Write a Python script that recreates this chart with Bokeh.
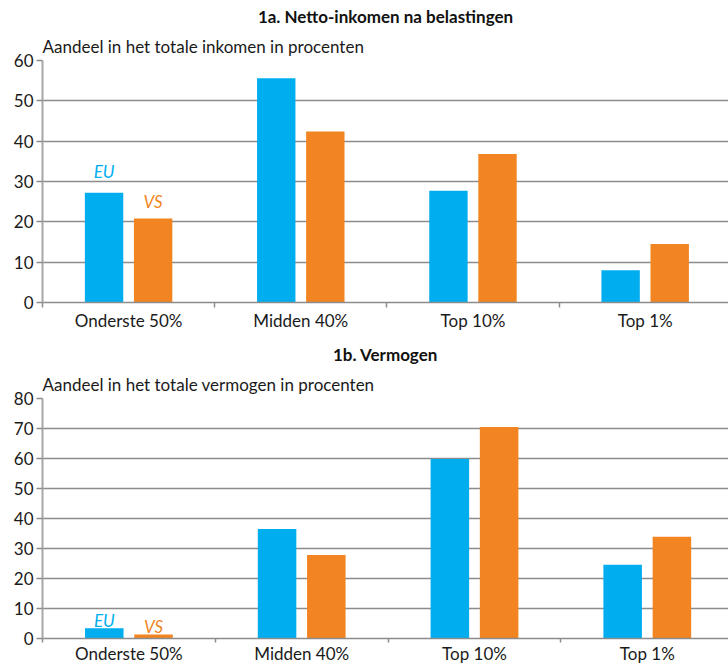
from bokeh.plotting import figure
from bokeh.models import Range1d, FixedTicker, Title, ColumnDataSource
from bokeh.transform import dodge
from bokeh.layouts import column
from bokeh.core.properties import value
from bokeh.embed import file_html
from bokeh.resources import INLINE

categories = ["Onderste 50%", "Midden 40%", "Top 10%", "Top 1%"]
income_eu = [27.2, 55.6, 27.7, 8.0]
income_vs = [20.8, 42.4, 36.8, 14.5]
wealth_eu = [3.4, 36.5, 59.8, 24.6]
wealth_vs = [1.3, 27.8, 70.5, 33.9]

BLUE = "#00AEEF"
ORANGE = "#F28522"
GRID = "#8c8c8c"
FONT = "Lato"


def make_chart(title, subtitle, eu, vs, ymax, height, border_top, border_bottom, border_left,
               xmax, eu_off, vs_off, label_standoff, tick_out):
    xs = [i + 0.5 for i in range(len(categories))]
    src = ColumnDataSource(dict(x=xs, eu=eu, vs=vs, cat=categories,
                                eu_lab=["EU"] + [""] * (len(categories) - 1),
                                vs_lab=["VS"] + [""] * (len(categories) - 1)))
    p = figure(width=728, height=height, output_backend="svg", toolbar_location=None,
               x_range=Range1d(0, xmax), y_range=Range1d(0, ymax), title=None,
               min_border_top=border_top, min_border_bottom=border_bottom,
               min_border_left=border_left, min_border_right=0)
    p.outline_line_color = None
    p.background_fill_color = "white"
    p.border_fill_color = "white"

    p.vbar(x=dodge("x", -0.1425, range=p.x_range), top="eu", width=0.223, bottom=0,
           source=src, fill_color=BLUE, line_color=None)
    p.vbar(x=dodge("x", 0.1425, range=p.x_range), top="vs", width=0.223, bottom=0,
           source=src, fill_color=ORANGE, line_color=None)

    p.text(x=dodge("x", -0.1425, range=p.x_range), y="eu", text="eu_lab", source=src,
           text_align="center", text_baseline="alphabetic", y_offset=-eu_off,
           text_font=value(FONT), text_font_style="italic", text_font_size="17px",
           text_color=BLUE)
    p.text(x=dodge("x", 0.1425, range=p.x_range), y="vs", text="vs_lab", source=src,
           text_align="center", text_baseline="alphabetic", y_offset=-vs_off,
           text_font=value(FONT), text_font_style="italic", text_font_size="17px",
           text_color=ORANGE)

    # y axis
    p.yaxis.ticker = FixedTicker(ticks=list(range(0, ymax + 1, 10)))
    p.yaxis.axis_line_color = "#a6a6a6"
    p.yaxis.axis_line_width = 2
    p.yaxis.major_tick_line_color = GRID
    p.yaxis.major_tick_line_width = 1.5
    p.yaxis.major_tick_out = 6
    p.yaxis.major_tick_in = 0
    p.yaxis.minor_tick_line_color = None
    p.yaxis.major_label_text_font = FONT
    p.yaxis.major_label_text_font_size = "17px"
    p.yaxis.major_label_text_color = "#1a1a1a"
    p.yaxis.major_label_standoff = 3

    # x axis: labels centred, ticks at boundaries
    p.xaxis.ticker = FixedTicker(ticks=xs, minor_ticks=list(range(len(categories) + 1)))
    p.xaxis.major_label_overrides = {x: c for x, c in zip(xs, categories)}
    p.xaxis.axis_line_color = GRID
    p.xaxis.axis_line_width = 1.5
    p.xaxis.major_tick_line_color = None
    p.xaxis.major_tick_out = 0
    p.xaxis.major_tick_in = 0
    p.xaxis.minor_tick_line_color = GRID
    p.xaxis.minor_tick_line_width = 1.5
    p.xaxis.minor_tick_out = tick_out
    p.xaxis.minor_tick_in = 0
    p.xaxis.major_label_text_font = FONT
    p.xaxis.major_label_text_font_size = "17px"
    p.xaxis.major_label_text_color = "#1a1a1a"
    p.xaxis.major_label_standoff = label_standoff

    p.xgrid.grid_line_color = None
    p.ygrid.grid_line_color = GRID
    p.ygrid.grid_line_width = 1.5

    p.add_layout(Title(text=subtitle, align="left", text_font=FONT, text_font_size="17px",
                       text_font_style="normal", text_color="#1a1a1a", standoff=7), "above")
    p.add_layout(Title(text=title, align="center", text_font=FONT, text_font_size="17px",
                       text_font_style="bold", text_color="#111111", standoff=7), "above")
    return p


p1 = make_chart("1a. Netto-inkomen na belastingen", "Aandeel in het totale inkomen in procenten",
                income_eu, income_vs, 60, 338, 60, 36, 40, 3.984, 21, 17, 2, 5)
p2 = make_chart("1b. Vermogen", "Aandeel in het totale vermogen in procenten",
                wealth_eu, wealth_vs, 80, 328, 59, 27, 42, 3.97, 8, 8, 0, 4)

layout = column(p1, p2, spacing=0)
open("out.html", "w").write(file_html(layout, INLINE))
